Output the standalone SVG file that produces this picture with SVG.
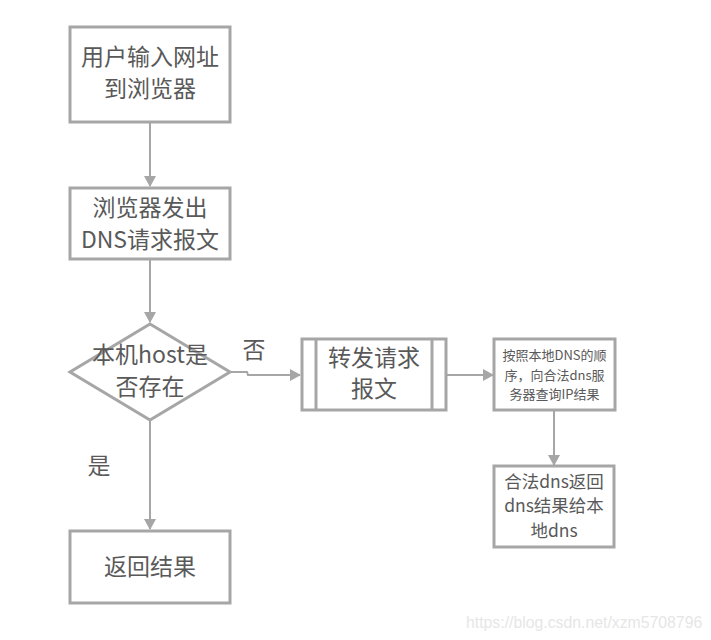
<svg xmlns="http://www.w3.org/2000/svg" width="711" height="640" viewBox="0 0 711 640">
<style>
.box{fill:#fff;stroke:#a6a6a6;stroke-width:3}
.ln{fill:none;stroke:#a6a6a6;stroke-width:2}
.t{font-family:"Noto Sans CJK SC","Noto Sans",sans-serif;fill:#595959;text-anchor:middle}
.big{font-size:23px}
.mid{font-size:17.5px}
.sm{font-size:13px}
.wm{font-family:"Liberation Sans",Arial,sans-serif;font-size:15.8px;fill:#e6e6e6}
</style>
<defs>
<marker id="ah" markerWidth="12" markerHeight="12" refX="10" refY="6" orient="auto" markerUnits="userSpaceOnUse">
<path d="M0,0 L11,6 L0,12 Z" fill="#a6a6a6"/>
</marker>
</defs>
<rect width="711" height="640" fill="#fff"/>
<g id="connectors">
<line class="ln" x1="150" y1="123" x2="150" y2="186" marker-end="url(#ah)"/>
<line class="ln" x1="150" y1="260" x2="150" y2="322" marker-end="url(#ah)"/>
<polyline class="ln" points="230,372 247,372 248,375 300,375" marker-end="url(#ah)"/>
<line class="ln" x1="447" y1="375" x2="493" y2="375" marker-end="url(#ah)"/>
<line class="ln" x1="554" y1="411" x2="554" y2="465" marker-end="url(#ah)"/>
<line class="ln" x1="150" y1="420" x2="150" y2="529" marker-end="url(#ah)"/>
<text class="t big" x="254" y="358">否</text>
<text class="t big" x="99" y="474">是</text>
</g>
<g id="n1">
<rect class="box" x="70" y="27" width="160" height="95"/>
<text class="t big" x="150" y="65">用户输入网址</text>
<text class="t big" x="150" y="97">到浏览器</text>
</g>
<g id="n2">
<rect class="box" x="70" y="188" width="160" height="71"/>
<text class="t big" x="150" y="216">浏览器发出</text>
<text class="t big" x="150" y="248">DNS请求报文</text>
</g>
<g id="n3">
<polygon class="box" points="150,324 230,372 150,420 70,372"/>
<text class="t big" x="150" y="363">本机host是</text>
<text class="t big" x="150" y="395">否存在</text>
</g>
<g id="n4">
<rect class="box" x="302" y="339" width="144" height="71"/>
<line class="box" x1="316" y1="339" x2="316" y2="410"/>
<line class="box" x1="432" y1="339" x2="432" y2="410"/>
<text class="t big" x="374" y="366">转发请求</text>
<text class="t big" x="374" y="397">报文</text>
</g>
<g id="n5">
<rect class="box" x="494" y="339" width="121" height="71"/>
<text class="t sm" x="554.5" y="360">按照本地DNS的顺</text>
<text class="t sm" x="554.5" y="380">序，向合法dns服</text>
<text class="t sm" x="554.5" y="399">务器查询IP结果</text>
</g>
<g id="n6">
<rect class="box" x="494" y="466" width="120" height="81"/>
<text class="t mid" x="554" y="488">合法dns返回</text>
<text class="t mid" x="554" y="512">dns结果给本</text>
<text class="t mid" x="554" y="537">地dns</text>
</g>
<g id="n7">
<rect class="box" x="70" y="531" width="160" height="72"/>
<text class="t big" x="150" y="575">返回结果</text>
</g>
<text class="wm" x="466" y="628">https://blog.csdn.net/xzm5708796</text>
</svg>
